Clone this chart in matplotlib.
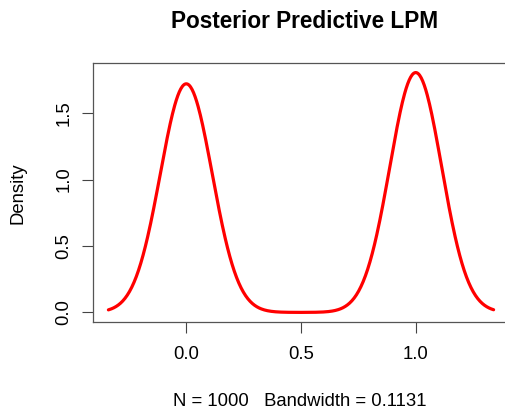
import numpy as np
import matplotlib
matplotlib.use("Agg")
import matplotlib.pyplot as plt

# posterior predictive draws (binary outcome): counts of 0s and 1s
outcome_values = [0.0, 1.0]
outcome_counts = [488, 512]
n_draws = 1000
bandwidth = 0.1131

x_ticks = [0.0, 0.5, 1.0]
y_ticks = [0.0, 0.5, 1.0, 1.5]

# gaussian kernel density like R's density()
xs = np.linspace(min(outcome_values) - 3 * bandwidth, max(outcome_values) + 3 * bandwidth, 512)
dens = np.zeros_like(xs)
for v, c in zip(outcome_values, outcome_counts):
    dens += c / n_draws * np.exp(-0.5 * ((xs - v) / bandwidth) ** 2) / (bandwidth * np.sqrt(2 * np.pi))

plt.rcParams['font.family'] = ['Liberation Sans', 'DejaVu Sans']

fig = plt.figure(figsize=(5.05, 4.11), dpi=100)
ax = fig.add_axes([93 / 505, (411 - 322) / 411, 416 / 505, (322 - 63) / 411])
ax.plot(xs, dens, color='#ff0000', lw=2.3, solid_capstyle='round')

xr = xs.max() - xs.min()
ax.set_xlim(xs.min() - 0.04 * xr, xs.max() + 0.04 * xr)
ax.set_ylim(-0.04 * dens.max(), dens.max() * 1.04)

ax.set_xticks(x_ticks)
ax.set_xticklabels(['%.1f' % t for t in x_ticks])
ax.set_yticks(y_ticks)
ax.set_yticklabels(['%.1f' % t for t in y_ticks], rotation=90, va='center')
ax.tick_params(direction='out', length=8, width=0.8, colors='#444444', labelcolor='black', labelsize=13.3)
ax.tick_params(axis='x', pad=9)
ax.tick_params(axis='y', pad=7)
for s in ax.spines.values():
    s.set_color('#555555')
    s.set_linewidth(0.9)

fig.text(305 / 505, 1 - 21 / 411, 'Posterior Predictive LPM', ha='center', va='center',
         fontsize=16.3, fontweight='bold')
fig.text(300 / 505, 1 - 401 / 411, 'N = %d   Bandwidth = %.4f' % (n_draws, bandwidth),
         ha='center', va='center', fontsize=13.3)
fig.text(17.5 / 505, 1 - 193 / 411, 'Density', ha='center', va='center', rotation=90, fontsize=13.3)

fig.savefig('out.png', dpi=100)
